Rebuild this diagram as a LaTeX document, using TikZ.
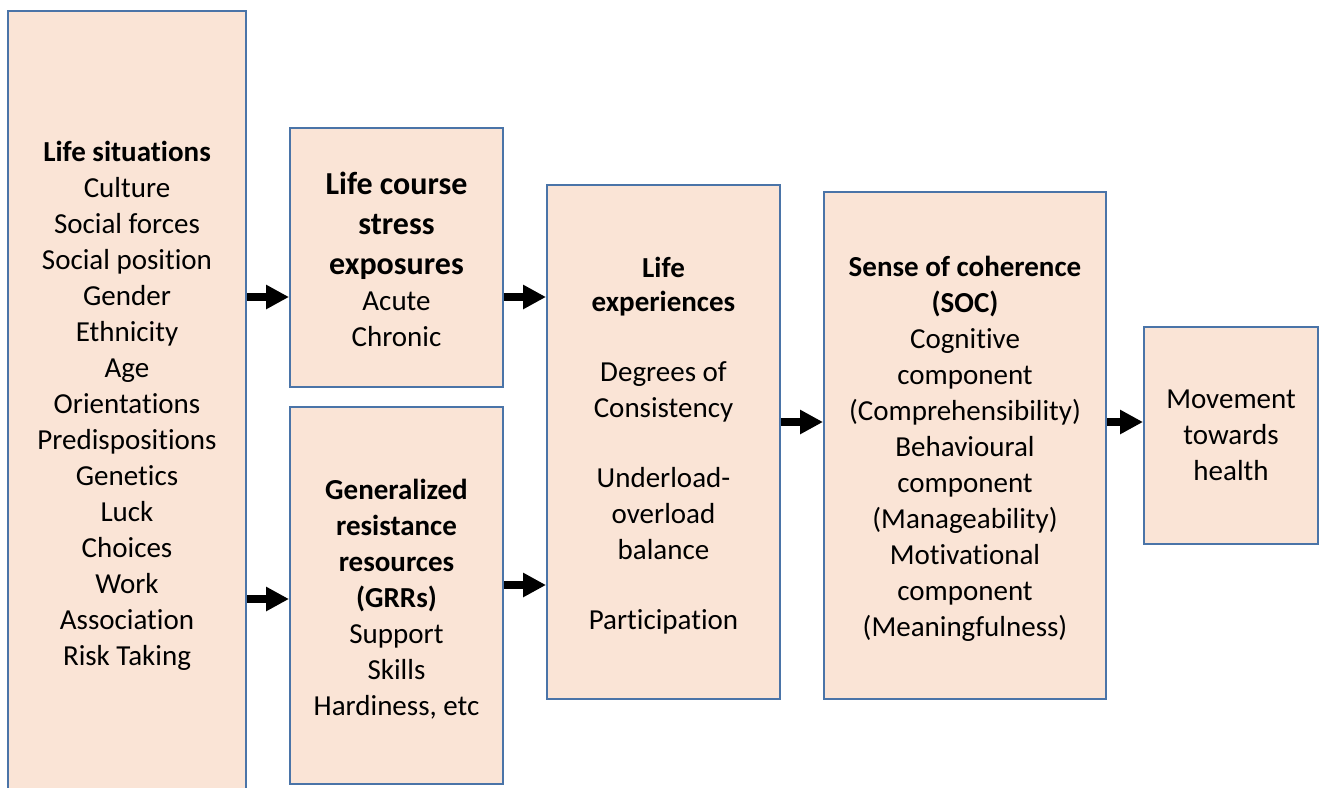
\documentclass[tikz,border=0pt]{standalone}
\usepackage{fontspec}
\setmainfont[RawFeature={-liga;-clig;-calt}]{Carlito}
\usepackage{xcolor}
\usepackage{tikz}
\usetikzlibrary{positioning}
\usetikzlibrary{arrows.meta}
\definecolor{boxfill}{HTML}{FAE4D6}
\definecolor{boxline}{HTML}{4A74A8}
\newcommand{\bighead}[1]{{\fontsize{16}{20}\selectfont\bfseries #1}}
\newcommand{\topgap}{\rule{0pt}{13.5pt}}

\begin{document}
\begin{tikzpicture}
           [x=0.5pt, y=-0.5pt,
            box/.style = {draw=boxline, line width=1pt, fill=boxfill, rectangle, align=center, inner sep=0pt, font=\fontsize{14.5}{18}\selectfont},
            flow/.style = {-{Triangle[length=11.5pt,width=11.5pt]}, line width=4pt, black}]
            \useasboundingbox (0,0) rectangle (1320,787);
            \clip (0,0) rectangle (1320,787);
            \node[box, minimum width=119pt, minimum height=391pt] (sit) at (127,402)
              {\topgap\textbf{Life situations}\\Culture\\Social forces\\Social position\\Gender\\Ethnicity\\Age\\Orientations\\Predispositions\\Genetics\\Luck\\Choices\\Work\\Association\\Risk Taking};
            \node[box, minimum width=106.5pt, minimum height=129.5pt] (course) at (396.5,257.5)
              {\topgap\bighead{Life course}\\[2pt]\bighead{stress}\\[2pt]\bighead{exposures}\\Acute\\Chronic};
            \node[box, minimum width=106.5pt, minimum height=188.5pt] (grr) at (396.5,595.5)
              {\topgap\textbf{Generalized}\\\textbf{resistance}\\\textbf{resources}\\\textbf{(GRRs)}\\Support\\Skills\\Hardiness, etc};
            \node[box, minimum width=116.5pt, minimum height=257pt] (exp) at (663.5,442)
              {\topgap\textbf{Life}\\[-1pt]\textbf{experiences}\\[17pt]Degrees of\\Consistency\\[17pt]Underload-\\overload\\balance\\[17pt]Participation};
            \node[box, minimum width=141pt, minimum height=253.5pt] (soc) at (965,445.5)
              {\topgap\textbf{Sense of coherence}\\\textbf{(SOC)}\\Cognitive\\component\\(Comprehensibility)\\Behavioural\\component\\(Manageability)\\Motivational\\component\\(Meaningfulness)};
            \node[box, minimum width=87pt, minimum height=108.5pt] (health) at (1231,435.5)
              {Movement\\towards\\health};

            \coordinate (upper) at (0,297);
            \coordinate (lowA) at (0,599);
            \coordinate (lowB) at (0,585);
            \coordinate (mid) at (0,422);

            \path[flow] (sit.east |- upper) edge (course.west |- upper);
            \path[flow] (sit.east |- lowA) edge (grr.west |- lowA);
            \path[flow] (course.east |- upper) edge (exp.west |- upper);
            \path[flow] (grr.east |- lowB) edge (exp.west |- lowB);
            \path[flow] (exp.east |- mid) edge (soc.west |- mid);
            \path[flow] (soc.east |- mid) edge (health.west |- mid);
        \end{tikzpicture}
\end{document}
